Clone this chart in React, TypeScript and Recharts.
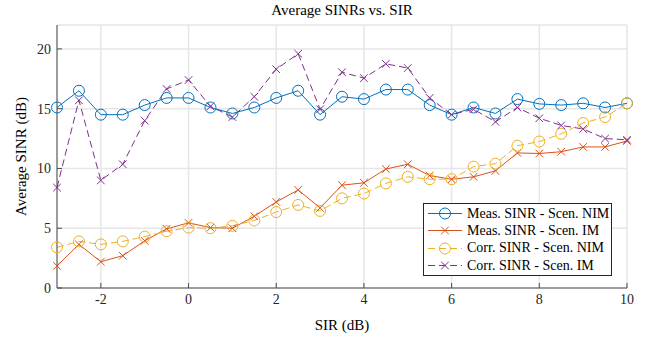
import React from "react";
import {
  LineChart,
  Line,
  XAxis,
  YAxis,
  CartesianGrid,
} from "recharts";

const sir = [
  -3, -2.5, -2, -1.5, -1, -0.5, 0, 0.5, 1, 1.5, 2, 2.5, 3, 3.5, 4, 4.5, 5,
  5.5, 6, 6.5, 7, 7.5, 8, 8.5, 9, 9.5, 10,
];
const measNim = [
  15.1, 16.5, 14.5, 14.5, 15.3, 15.9, 15.9, 15.1, 14.6, 15.1, 15.9, 16.5, 14.5,
  16.0, 15.8, 16.6, 16.6, 15.3, 14.5, 15.1, 14.6, 15.8, 15.4, 15.3, 15.45, 15.1,
  15.45,
];
const measIm = [
  1.85, 3.65, 2.2, 2.7, 3.95, 4.95, 5.45, 5.05, 5.0, 6.0, 7.2, 8.2, 6.7, 8.6,
  8.8, 9.95, 10.35, 9.4, 9.1, 9.3, 9.8, 11.3, 11.25, 11.4, 11.8, 11.8, 12.3,
];
const corrNim = [
  3.4, 3.9, 3.65, 3.9, 4.3, 4.75, 5.05, 5.0, 5.2, 5.65, 6.35, 6.95, 6.45, 7.5,
  7.9, 8.75, 9.3, 9.1, 9.1, 10.15, 10.4, 11.9, 12.25, 12.9, 13.8, 14.3, 15.45,
];
const corrIm = [
  8.4, 15.7, 9.0, 10.35, 14.0, 16.65, 17.4, 15.2, 14.3, 16.0, 18.3, 19.6, 14.95,
  18.05, 17.55, 18.75, 18.4, 15.9, 14.5, 14.95, 13.9, 15.1, 14.2, 13.6, 13.3,
  12.5, 12.4,
];
const xTicks = [-2, 0, 2, 4, 6, 8, 10];
const yTicks = [0, 5, 10, 15, 20];

const data = sir.map((s, i) => ({
  sir: s,
  measNim: measNim[i],
  measIm: measIm[i],
  corrNim: corrNim[i],
  corrIm: corrIm[i],
}));

const series = [
  { key: "measNim", name: "Meas. SINR - Scen. NIM", color: "#0072BD", marker: "o", dash: undefined },
  { key: "measIm", name: "Meas. SINR - Scen. IM", color: "#D95319", marker: "x", dash: undefined },
  { key: "corrNim", name: "Corr. SINR - Scen. NIM", color: "#EDB120", marker: "o", dash: "7 4" },
  { key: "corrIm", name: "Corr. SINR - Scen. IM", color: "#7E2F8E", marker: "x", dash: "7 4" },
];

const font = "'Liberation Serif', 'DejaVu Serif', serif";
const axisColor = "#4d4d4d";

function Marker({ cx, cy, type, color }: { cx: number; cy: number; type: string; color: string }) {
  if (type === "o") {
    return <circle cx={cx} cy={cy} r={5.5} fill="none" stroke={color} strokeWidth={1} />;
  }
  const s = 3.8;
  return (
    <g stroke={color} strokeWidth={1}>
      <line x1={cx - s} y1={cy - s} x2={cx + s} y2={cy + s} />
      <line x1={cx - s} y1={cy + s} x2={cx + s} y2={cy - s} />
    </g>
  );
}

function LegendBox() {
  return (
    <div
      style={{
        position: "absolute",
        left: 423,
        top: 203,
        width: 187,
        padding: "1px 0",
        border: "1px solid #262626",
        background: "#fff",
        fontFamily: font,
        fontSize: 14,
        color: "#000",
      }}
    >
      {series.map((s) => (
        <div key={s.key} style={{ display: "flex", alignItems: "center", height: 17.3 }}>
          <svg width={42} height={17} style={{ flex: "none" }}>
            <line x1={4} y1={8.5} x2={38} y2={8.5} stroke={s.color} strokeWidth={1} strokeDasharray={s.dash} />
            <Marker cx={21} cy={8.5} type={s.marker} color={s.color} />
          </svg>
          <span style={{ whiteSpace: "nowrap", marginLeft: 1 }}>{s.name}</span>
        </div>
      ))}
    </div>
  );
}

export default function App() {
  const tickStyle = { fill: "#262626", fontSize: 14, fontFamily: font };
  return (
    <div
      style={{
        position: "absolute",
        left: 0,
        top: 0,
        width: 650,
        height: 341,
        background: "#fff",
        fontFamily: font,
      }}
    >
      <style>{`.recharts-wrapper text, .recharts-wrapper tspan { font-family: 'Liberation Serif', 'DejaVu Serif', serif !important; }`}</style>
      <div
        style={{
          position: "absolute",
          left: 0,
          width: 684,
          top: 2,
          textAlign: "center",
          fontSize: 15,
          color: "#000",
        }}
      >
        Average SINRs vs. SIR
      </div>
      <LineChart
        width={650}
        height={341}
        data={data}
        margin={{ top: 25, right: 23, bottom: 0, left: 0 }}
        style={{ fontFamily: font }}
      >
        <CartesianGrid stroke="#e6e6e6" strokeWidth={1.5} />
        <XAxis
          dataKey="sir"
          type="number"
          domain={[-3, 10]}
          ticks={xTicks}
          height={53}
          stroke={axisColor}
          tickSize={-5}
          tickMargin={11}
          tick={tickStyle}
          label={{ value: "SIR (dB)", position: "center", dy: 10, style: { fontFamily: font, fontSize: 15, fill: "#000" } }}
        />
        <YAxis
          type="number"
          domain={[0, 22]}
          ticks={yTicks}
          width={57}
          stroke={axisColor}
          tickSize={-5}
          tickMargin={11}
          tick={tickStyle}
          label={{ value: "Average SINR (dB)", angle: -90, position: "center", dx: -8, style: { fontFamily: font, fontSize: 15, fill: "#000", textAnchor: "middle" } }}
        />
        <XAxis
          xAxisId="top"
          orientation="top"
          dataKey="sir"
          type="number"
          domain={[-3, 10]}
          ticks={xTicks}
          height={0}
          stroke={axisColor}
          tickSize={-5}
          tick={false}
        />
        <YAxis
          yAxisId="right"
          orientation="right"
          type="number"
          domain={[0, 22]}
          ticks={yTicks}
          width={0}
          stroke={axisColor}
          tickSize={-5}
          tick={false}
        />
        {series.map((s) => (
          <Line
            key={s.key}
            dataKey={s.key}
            name={s.name}
            stroke={s.color}
            strokeWidth={1}
            strokeDasharray={s.dash}
            isAnimationActive={false}
            dot={(p: any) => (
              <Marker key={`${s.key}-${p.index}`} cx={p.cx} cy={p.cy} type={s.marker} color={s.color} />
            )}
            activeDot={false}
          />
        ))}
      </LineChart>
      <LegendBox />
    </div>
  );
}
